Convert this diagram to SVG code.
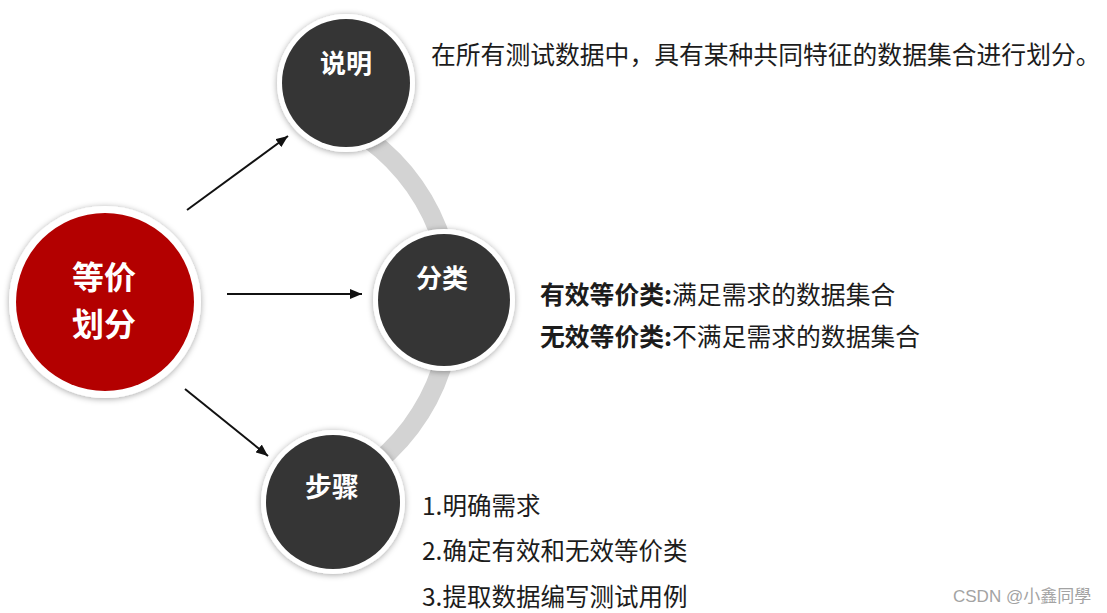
<svg xmlns="http://www.w3.org/2000/svg" width="1107" height="613" viewBox="0 0 1107 613">
  <style>
    .cjk { font-family: "Noto Sans CJK SC", "Noto Sans", sans-serif; }
    .ring { fill: #ffffff; filter: url(#shadow); }
    .dark { fill: #353535; }
    .red { fill: #b30000; }
    .nodeText { fill: #ffffff; font-weight: 700; text-anchor: middle; }
    .desc { fill: #1c1c1c; font-weight: 400; }
    .bold { font-weight: 700; }
    .arrow { stroke: #111111; stroke-width: 2; fill: none; marker-end: url(#head); }
    .band { stroke: #d3d3d3; stroke-width: 19; fill: none; }
  </style>
  <defs>
    <filter id="shadow" x="-20%" y="-20%" width="140%" height="140%">
      <feDropShadow dx="0" dy="1" stdDeviation="3" flood-color="#000000" flood-opacity="0.35"/>
    </filter>
    <marker id="head" viewBox="0 0 12 10" refX="12" refY="5" markerWidth="12" markerHeight="10" markerUnits="userSpaceOnUse" orient="auto">
      <path d="M0,0 L12,5 L0,10 Z" fill="#111111"/>
    </marker>
  </defs>
  <rect width="1107" height="613" fill="#ffffff"/>

  <g id="connectors">
    <path class="band" d="M 313 110 A 205 205 0 0 1 307 500"/>
    <line class="arrow" x1="187" y1="210" x2="288" y2="136"/>
    <line class="arrow" x1="227" y1="294" x2="362" y2="294"/>
    <line class="arrow" x1="185" y1="389" x2="268" y2="456"/>
  </g>

  <g id="node-main">
    <circle class="ring" cx="105" cy="302" r="96"/>
    <circle class="red" cx="105" cy="302" r="89"/>
    <text class="cjk nodeText" x="104" y="289" font-size="32">等价</text>
    <text class="cjk nodeText" x="104" y="336" font-size="32">划分</text>
  </g>

  <g id="node-shuoming">
    <circle class="ring" cx="346" cy="83" r="69"/>
    <circle class="dark" cx="346" cy="83" r="64"/>
    <text class="cjk nodeText" x="346" y="73" font-size="26">说明</text>
  </g>

  <g id="node-fenlei">
    <circle class="ring" cx="444" cy="300" r="71"/>
    <circle class="dark" cx="444" cy="300" r="66"/>
    <text class="cjk nodeText" x="442" y="288" font-size="26">分类</text>
  </g>

  <g id="node-buzhou">
    <circle class="ring" cx="333" cy="502" r="72"/>
    <circle class="dark" cx="333" cy="502" r="67"/>
    <text class="cjk nodeText" x="332" y="497" font-size="27">步骤</text>
  </g>

  <g id="desc-shuoming">
    <text class="cjk desc" x="431" y="63.5" font-size="24.8">在所有测试数据中，具有某种共同特征的数据集合进行划分。</text>
  </g>

  <g id="desc-fenlei">
    <text class="cjk desc" x="540" y="303.5" font-size="24.8"><tspan class="bold">有效等价类:</tspan>满足需求的数据集合</text>
    <text class="cjk desc" x="540" y="345.5" font-size="24.8"><tspan class="bold">无效等价类:</tspan>不满足需求的数据集合</text>
  </g>

  <g id="desc-buzhou">
    <text class="cjk desc" x="422" y="514.5" font-size="24.5">1.明确需求</text>
    <text class="cjk desc" x="422" y="560" font-size="24.5">2.确定有效和无效等价类</text>
    <text class="cjk desc" x="422" y="605.5" font-size="24.5">3.提取数据编写测试用例</text>
  </g>

  <g id="watermark">
    <text x="953" y="602" font-size="17" fill="#a3a3a3" font-family="Liberation Sans, Noto Sans CJK SC, sans-serif">CSDN @小鑫同學</text>
  </g>
</svg>
